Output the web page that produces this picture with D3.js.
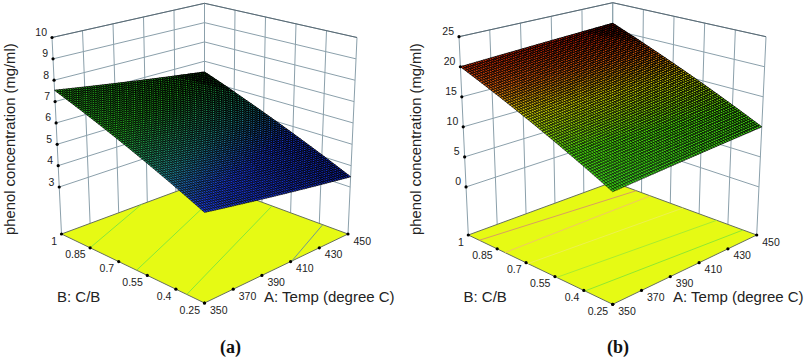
<!DOCTYPE html>
<html>
<head>
<meta charset="utf-8">
<title>phenol concentration surfaces</title>
<script src="https://cdn.jsdelivr.net/npm/d3@7"></script>
<style>
    html, body { margin: 0; padding: 0; background: #fff; }
    svg { display: block; }
    text { font-family: "Liberation Sans", Arial, sans-serif; fill: #222; }
</style>
</head>
<body>
<svg id="fig" width="808" height="359"></svg>
<script>
// shared axis values
const tempTicks = [350, 370, 390, 410, 430, 450];
const cbTicks = [0.25, 0.4, 0.55, 0.7, 0.85, 1];
const cbLabels = ["0.25", "0.4", "0.55", "0.7", "0.85", "1"];

// panel a
const zTicksA = [3, 4, 5, 6, 7, 8, 9, 10];
const zFloorA = 0.8;
// rows: C/B 0.25, C/B 1 - columns: temp 350, temp 450
const surfaceLowCbA = [4.57, 3.48];
const surfaceHighCbA = [7.53, 6.44];
const contourStartA = [[350, 0.85], [350, 0.606], [350, 0.343], [410.8, 0.25]];
const contourEndA = [[406, 1], [450, 0.9], [450, 0.647], [450, 0.382]];
const contourColorA = ["#86e83a", "#86e83a", "#86e83a", "#6f9a90"];

// panel b
const zTicksB = [0, 5, 10, 15, 20, 25];
const zFloorB = -8;
const surfaceLowCbB = [8.7, 10];
const surfaceHighCbB = [20, 21.2];
const contourStartB = [[350, 0.943], [350, 0.81], [350, 0.69], [350, 0.541], [350, 0.394]];
const contourEndB = [[450, 0.877], [450, 0.804], [450, 0.633], [450, 0.458], [450, 0.321]];
const contourColorB = ["#d8a060", "#f0c860", "#ecf050", "#a8ec30", "#90e830"];

// colour ramp of the response, both panels use it
const rampValues = [3.4, 4.7, 5.4, 6.4, 12, 15.5, 18, 21];
const rampColors = ["#0c1fb0", "#1638e0", "#1c8a90", "#22b81e", "#44d008", "#c8c800", "#d85a08", "#b80c00"];

const colorScale = d3.scaleLinear().domain(rampValues).range(rampColors).clamp(true);
const tempScale = d3.scaleLinear().domain([350, 450]).range([0, 1]);
const cbScale = d3.scaleLinear().domain([0.25, 1]).range([0, 1]);

const meshSteps = 66;
const svg = d3.select("#fig");

function drawPanel(cfg){
    const g = svg.append("g");
    const zScale = d3.scaleLinear().domain([cfg.zFloor, cfg.zTop]).range([0, 1]);
    const {front, right, left, back} = cfg.box;

    // cube corners -> screen
    function project(temp, cb, z){
        const u = tempScale(temp), v = cbScale(cb), w = zScale(z);
        const low = d3.interpolate(front, right)(u);
        const high = d3.interpolate(left, back)(u);
        const p = d3.interpolate(low, high)(v);
        return [p[0] + (p[2] - p[0]) * w, p[1] + (p[3] - p[1]) * w];
    }
    const line = d3.line();

    const tempMin = tempTicks[0], tempMax = tempTicks[5];
    const cbMin = cbTicks[0], cbMax = cbTicks[5];

    // walls
    const wallLines = [];
    cfg.zTicks.forEach(z => {
        wallLines.push([project(tempMin, cbMax, z), project(tempMax, cbMax, z)]);
        wallLines.push([project(tempMax, cbMax, z), project(tempMax, cbMin, z)]);
    });
    tempTicks.forEach(t => wallLines.push([project(t, cbMax, cfg.zFloor), project(t, cbMax, cfg.zTop)]));
    cbTicks.forEach(c => wallLines.push([project(tempMax, c, cfg.zFloor), project(tempMax, c, cfg.zTop)]));

    g.append("g").selectAll("path").data(wallLines).join("path")
        .attr("d", d => line(d))
        .attr("fill", "none")
        .attr("stroke", "#8ba0ab")
        .attr("stroke-width", 1);

    // top edge is darker
    g.append("path")
        .attr("d", line([project(tempMin, cbMax, cfg.zTop), project(tempMax, cbMax, cfg.zTop), project(tempMax, cbMin, cfg.zTop)]))
        .attr("fill", "none")
        .attr("stroke", "#5a6a74")
        .attr("stroke-width", 1);

    // floor
    g.append("path")
        .attr("d", line([
            project(tempMin, cbMin, cfg.zFloor), project(tempMax, cbMin, cfg.zFloor),
            project(tempMax, cbMax, cfg.zFloor), project(tempMin, cbMax, cfg.zFloor)
        ]) + "Z")
        .attr("fill", "#e6fa14")
        .attr("stroke", "#66705a")
        .attr("stroke-width", 1);

    // contours on the floor
    g.append("g").selectAll("path").data(cfg.contourStart).join("path")
        .attr("d", (d, i) => line([project(d[0], d[1], cfg.zFloor), project(cfg.contourEnd[i][0], cfg.contourEnd[i][1], cfg.zFloor)]))
        .attr("fill", "none")
        .attr("stroke", (d, i) => cfg.contourColor[i])
        .attr("stroke-width", 1);

    // surface, facets drawn back to front
    const stepTemp = d3.scaleLinear().domain([0, meshSteps]).range([tempMin, tempMax]);
    const stepCb = d3.scaleLinear().domain([0, meshSteps]).range([cbMin, cbMax]);
    const zAt = (t, c) => {
        const u = tempScale(t), v = cbScale(c);
        const low = cfg.surfaceLowCb[0] + (cfg.surfaceLowCb[1] - cfg.surfaceLowCb[0]) * u;
        const high = cfg.surfaceHighCb[0] + (cfg.surfaceHighCb[1] - cfg.surfaceHighCb[0]) * u;
        return low + (high - low) * v;
    };
    const facets = [];
    for(let j = meshSteps - 1; j >= 0; j--){
        for(let i = meshSteps - 1; i >= 0; i--){
            facets.push({i, j});
        }
    }
    g.append("g").selectAll("path").data(facets).join("path")
        .attr("d", ({i, j}) => {
            const t0 = stepTemp(i), t1 = stepTemp(i + 1), c0 = stepCb(j), c1 = stepCb(j + 1);
            return line([
                project(t0, c0, zAt(t0, c0)), project(t1, c0, zAt(t1, c0)),
                project(t1, c1, zAt(t1, c1)), project(t0, c1, zAt(t0, c1))
            ]) + "Z";
        })
        .attr("fill", ({i, j}) => colorScale(zAt(stepTemp(i + 0.5), stepCb(j + 0.5))))
        .attr("stroke", "#000")
        // mesh gets denser toward the far corners
        .attr("stroke-width", ({i, j}) => 0.5 + 0.28 * (i + j) / meshSteps);

    // z axis ticks
    const zAxis = g.append("g").selectAll("g").data(cfg.zTicks).join("g")
        .attr("transform", d => `translate(${project(tempMin, cbMax, d)})`);
    zAxis.append("circle").attr("r", 1.6).attr("fill", "#000");
    zAxis.append("text")
        .attr("x", -5).attr("y", -1.5)
        .attr("text-anchor", "end")
        .attr("font-size", 10.5)
        .text(d => d);

    // C/B ticks
    const cbAxis = g.append("g").selectAll("g").data(cbTicks).join("g")
        .attr("transform", d => `translate(${project(tempMin, d, cfg.zFloor)})`);
    cbAxis.append("circle").attr("r", 1.6).attr("fill", "#000");
    cbAxis.append("text")
        .attr("x", -4.5).attr("y", 10.5)
        .attr("text-anchor", "end")
        .attr("font-size", 10.5)
        .text((d, i) => cbLabels[i]);

    // temp ticks
    const tempAxis = g.append("g").selectAll("g").data(tempTicks).join("g")
        .attr("transform", d => `translate(${project(d, cbMin, cfg.zFloor)})`);
    tempAxis.append("circle").attr("r", 1.6).attr("fill", "#000");
    tempAxis.append("text")
        .attr("x", 5.5).attr("y", 10.5)
        .attr("font-size", 10.5)
        .text(d => d);

    // titles
    g.append("text")
        .attr("transform", `translate(${cfg.zTitleX},235) rotate(-90)`)
        .attr("font-size", 14.8)
        .text("phenol concentration (mg/ml)");
    g.append("text").attr("x", cfg.cbTitleX).attr("y", 302).attr("font-size", 15).text("B: C/B");
    g.append("text").attr("x", cfg.tempTitleX).attr("y", 302).attr("font-size", 15).text("A: Temp (degree C)");
    g.append("text")
        .attr("x", cfg.tagX).attr("y", 353)
        .attr("font-size", 18)
        .attr("font-weight", "bold")
        .style("font-family", '"Liberation Serif", serif')
        .style("fill", "#111")
        .text(cfg.tag);
}

drawPanel({
    zTicks: zTicksA, zFloor: zFloorA, zTop: 10,
    // [x floor, y floor, x top, y top]
    box: {front: [204.5, 303, 204.5, 82], right: [348, 234, 357, 37.5], left: [61.5, 234, 52, 37.5], back: [204.5, 181, 204.5, 3.3]},
    surfaceLowCb: surfaceLowCbA, surfaceHighCb: surfaceHighCbA,
    contourStart: contourStartA, contourEnd: contourEndA, contourColor: contourColorA,
    zTitleX: 14.5, cbTitleX: 57, tempTitleX: 264, tagX: 220, tag: "(a)"
});

drawPanel({
    zTicks: zTicksB, zFloor: zFloorB, zTop: 25,
    box: {front: [612.7, 304.3, 612.7, 82], right: [756.7, 235, 766, 36.7], left: [468.3, 235, 459, 36.7], back: [612.7, 182, 612.7, 2.7]},
    surfaceLowCb: surfaceLowCbB, surfaceHighCb: surfaceHighCbB,
    contourStart: contourStartB, contourEnd: contourEndB, contourColor: contourColorB,
    zTitleX: 420.5, cbTitleX: 463.5, tempTitleX: 673, tagX: 607, tag: "(b)"
});
</script>
</body>
</html>
